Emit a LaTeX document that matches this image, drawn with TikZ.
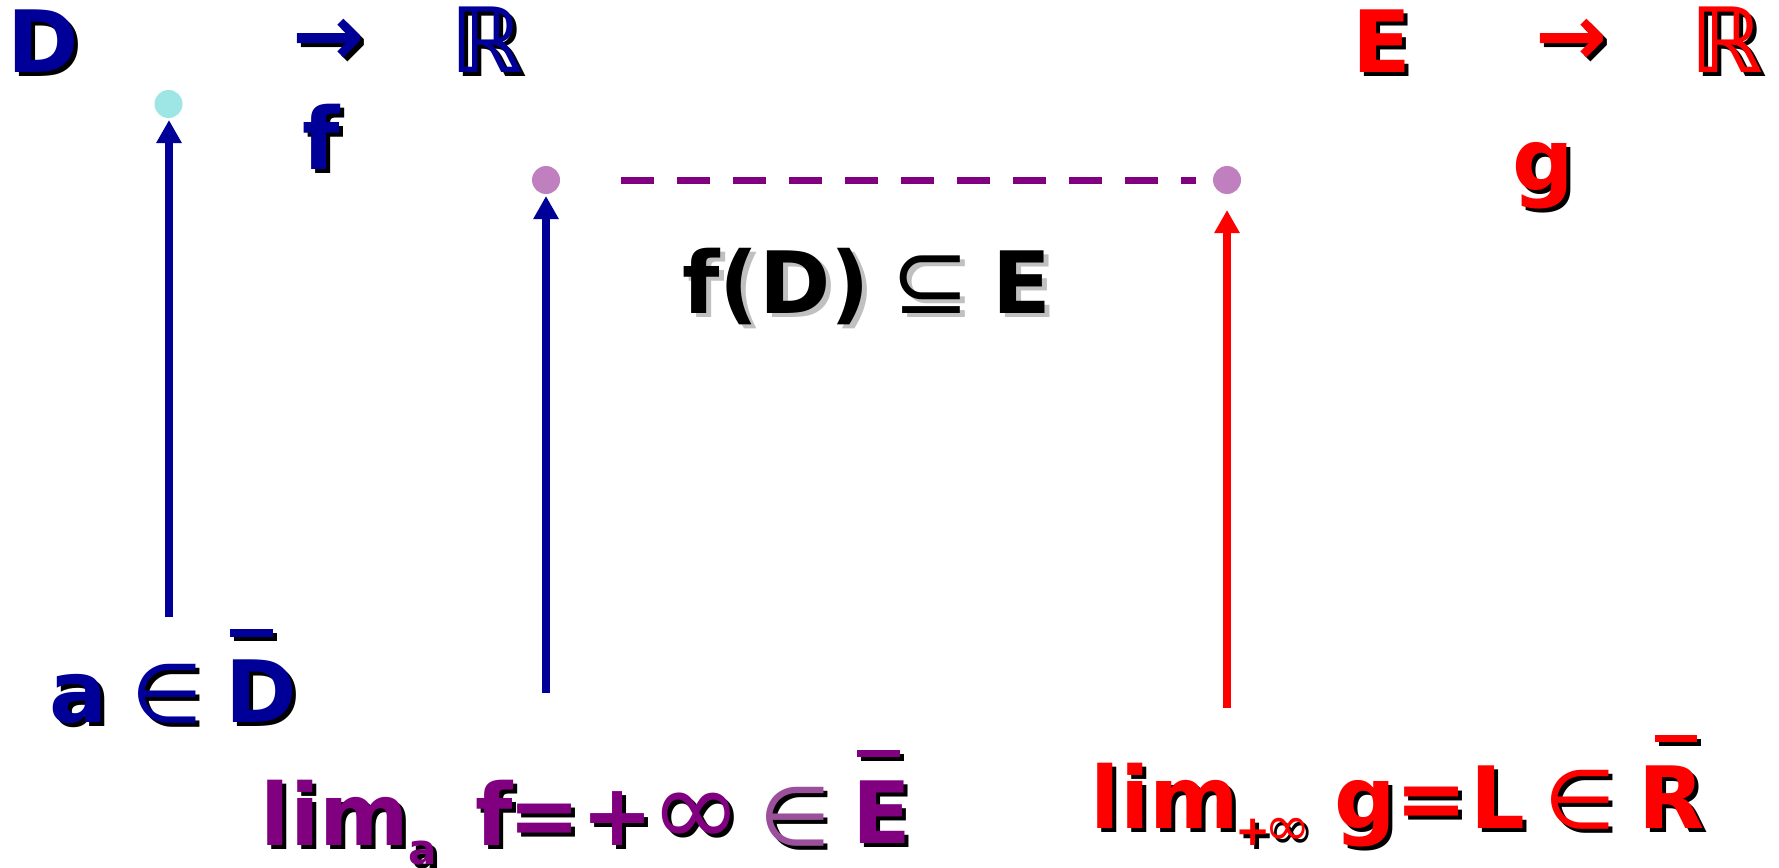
\documentclass[tikz,border=0pt]{standalone}
\usepackage{fontspec}
\setmainfont{DejaVu Sans}
\usetikzlibrary{arrows.meta}
\definecolor{fblue}{RGB}{0,0,153}
\definecolor{gred}{RGB}{255,0,0}
\definecolor{lpurple}{RGB}{128,0,128}
\definecolor{dotpurple}{RGB}{192,128,192}
\definecolor{dotcyan}{RGB}{158,229,229}
\definecolor{inpurple}{RGB}{155,80,155}
\definecolor{shgrey}{RGB}{192,192,192}
\tikzset{
  txt/.style={inner sep=0pt, outer sep=0pt},
  big/.style={font=\fontsize{86}{86}\selectfont\bfseries},
  thin/.style={font=\fontsize{82}{82}\selectfont},
  subset/.style={font=\fontsize{94}{94}\selectfont},
  inf/.style={font=\fontsize{110}{110}\selectfont},
  dbl/.style={font=\fontsize{90}{90}\selectfont\bfseries},
  sub/.style={font=\fontsize{42}{42}\selectfont\bfseries},
  dot/.style={circle, inner sep=0pt, minimum size=28pt},
  link/.style={line width=8pt, -{Triangle[length=23pt,width=24pt]}},
  dashlink/.style={line width=7pt, lpurple, dash pattern=on 33pt off 23pt}
}
% #1 name, #2 anchor, #3 position, #4 colour, #5 style, #6 shadow colour, #7 text
\newcommand{\shtext}[7]{%
  \node[txt,#5,anchor=#2,text=#6,shift={(4,4)}] at #3 {#7};
  \node[txt,#5,anchor=#2,text=#4] (#1) at #3 {#7};}
% bar with shadow: x1 y1 x2 y2 colour
\newcommand{\shbar}[5]{%
  \fill[black] (#1+4,#2+4) rectangle (#3+4,#4+4);
  \fill[#5] (#1,#2) rectangle (#3,#4);}
\begin{document}
\begin{tikzpicture}[x=1pt,y=-1pt]
\useasboundingbox[fill=white] (0,0) rectangle (1779,867);

% ---- top left: D -> R, f
\shtext{D1}{base}{(43.5,72)}{fblue}{big}{black}{D}
\shtext{ar1}{center}{(329,42)}{fblue}{big}{black}{→}
\shtext{R1}{base}{(487,73)}{fblue}{dbl}{black}{ℝ}
\shtext{f1}{base}{(321.5,169)}{fblue}{big}{black}{f}

% ---- top right: E -> R, g
\shtext{E1}{base}{(1381.5,72)}{gred}{big}{black}{E}
\shtext{ar2}{center}{(1572,42)}{gred}{big}{black}{→}
\shtext{R2}{base}{(1727,73)}{gred}{dbl}{black}{ℝ}
\shtext{g1}{base}{(1543,190)}{gred}{big}{black}{g}

% ---- dots
\node[dot, fill=dotcyan] (ca) at (168.5,104) {};
\node[dot, fill=dotpurple] (pl) at (546,180) {};
\node[dot, fill=dotpurple] (pr) at (1227,180) {};

% ---- connectors
\coordinate (b1) at (169,617);
\coordinate (t1) at (169,120);
\coordinate (b2) at (546,693);
\coordinate (t2) at (546,196);
\coordinate (b3) at (1227,708);
\coordinate (t3) at (1227,210);
\coordinate (d1) at (621,180);
\coordinate (d2) at (1196,180);
\draw[link, fblue] (b1) -- (t1);
\draw[link, fblue] (b2) -- (t2);
\draw[link, gred] (b3) -- (t3);
\draw[dashlink] (d1) -- (d2);

% ---- f(D) subset E
\node[txt,big,anchor=base,text=shgrey,shift={(5,4)}] at (776,313) {f(D)};
\node[txt,big,anchor=base,text=black] (fD) at (776,313) {f(D)};
\node[txt,subset,anchor=base,text=shgrey,shift={(5,4)}] at (931,313) {⊆};
\node[txt,subset,anchor=base,text=black] (sube) at (931,313) {⊆};
\node[txt,big,anchor=base,text=shgrey,shift={(5,4)}] at (1021.5,313) {E};
\node[txt,big,anchor=base,text=black] (E2) at (1021.5,313) {E};

% ---- a in Dbar
\shtext{a1}{base}{(78.5,722)}{fblue}{big}{black}{a}
\shtext{in1}{base}{(167.5,722)}{fblue}{thin}{black}{∈}
\shtext{D2}{base}{(261,722)}{fblue}{big}{black}{D}
\shbar{230}{629}{273}{637}{fblue}

% ---- lim_a f = +inf in Ebar
\shtext{lim1}{base}{(335,845)}{lpurple}{big}{black}{lim}
\shtext{suba}{base}{(422.5,864)}{lpurple}{sub}{black}{a}
\shtext{f2}{base}{(494,845)}{lpurple}{big}{black}{f}
\shtext{eq1}{base}{(545,845)}{lpurple}{big}{black}{=}
\shtext{pl1}{base}{(617.5,845)}{lpurple}{big}{black}{+}
\shtext{inf1}{base}{(696,846)}{lpurple}{inf}{black}{∞}
\shtext{in2}{base}{(795,845)}{inpurple}{thin}{black}{∈}
\shtext{E3}{base}{(881.5,843)}{lpurple}{big}{black}{E}
\shbar{857}{750}{900}{757}{lpurple}

% ---- lim_{+inf} g = L in Rbar
\shtext{lim2}{base}{(1165,828)}{gred}{big}{black}{lim}
\shtext{subinf}{base}{(1273,845)}{gred}{sub}{black}{+\kern-6pt{\fontsize{56}{56}\selectfont\mdseries ∞}}
\shtext{g2}{base}{(1365.5,828)}{gred}{big}{black}{g}
\shtext{eq2}{base}{(1432,828)}{gred}{big}{black}{=}
\shtext{L1}{base}{(1498,828)}{gred}{big}{black}{L}
\shtext{in3}{base}{(1580.5,828)}{gred}{thin}{black}{∈}
\shtext{R3}{base}{(1671.5,828)}{gred}{big}{black}{R}
\shbar{1655}{735}{1697}{742}{gred}
\end{tikzpicture}
\end{document}
